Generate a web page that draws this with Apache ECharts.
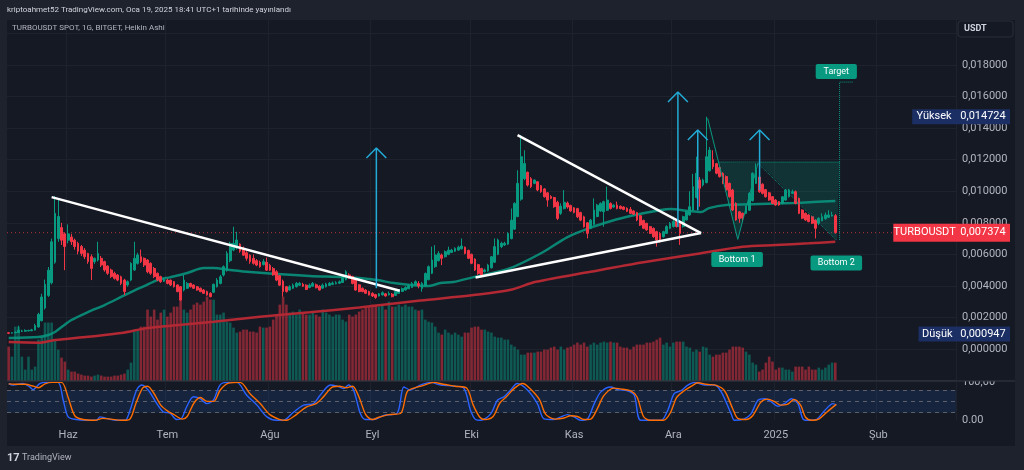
<!DOCTYPE html>
<html>
<head>
<meta charset="utf-8">
<title>TURBOUSDT</title>
<script src="https://cdn.jsdelivr.net/npm/echarts@6/dist/echarts.min.js"></script>
<style>
html,body{margin:0;padding:0;background:#151924;}
#chart{width:1024px;height:470px;}
</style>
</head>
<body>
<div id="chart"></div>
<script>
// daily Heikin Ashi candles, prices in 1e-4 USDT (10.3 -> 0.00103)
const startDay = Date.UTC(2024, 4, 14)
const totalDays = 287 // candles run to Jan 19, axis runs on to late Feb

const openP = [
10.3,10.1,10.2,10.4,11.2,11.3,11.5,11.6,12.0,14.0,
18.0,26.0,34.0,42.0,55.0,70.0,77.0,73.0,69.0,71.0,
69.0,67.0,65.0,62.7,60.6,58.5,55.4,56.4,57.5,55.4,
52.6,50.1,48.0,46.9,45.8,43.7,40.6,43.7,50.1,54.3,
58.5,57.5,56.4,54.3,51.1,48.0,45.9,43.0,43.7,43.7,
42.7,40.6,39.5,37.4,38.5,41.6,40.6,39.5,38.5,37.4,
36.4,35.3,36.0,39.5,41.6,46.9,50.0,56.0,62.7,64.0,
66.5,64.0,61.0,59.5,57.5,56.0,55.0,53.5,55.0,53.0,
51.0,49.0,46.5,43.0,39.5,37.4,38.5,39.5,40.5,41.0,
40.5,39.0,39.8,40.7,39.8,38.6,39.5,40.3,41.0,41.4,
41.7,42.2,44.0,47.0,46.0,44.0,40.7,38.5,37.4,36.4,
35.3,34.5,33.6,34.3,35.0,34.3,34.8,34.0,35.3,36.5,
37.4,38.2,39.0,40.3,41.5,38.4,40.0,44.0,48.0,52.2,
56.0,59.6,58.5,60.0,61.2,62.0,62.7,63.5,64.5,62.5,
60.0,57.0,53.5,51.0,49.0,49.5,51.5,55.0,60.0,64.9,
66.0,66.5,70.0,76.0,84.0,95.0,108.0,112.0,108.0,105.0,
106.0,103.5,101.5,99.0,96.7,96.0,93.0,86.0,89.0,92.5,
91.0,89.5,89.0,86.5,83.8,80.0,76.5,79.0,84.0,87.5,
87.0,88.0,92.3,90.0,91.2,90.5,90.0,89.2,88.5,87.5,
86.5,84.5,81.5,79.7,77.6,76.5,74.4,73.3,71.2,73.3,
76.5,77.6,80.8,79.7,77.6,81.8,85.0,88.0,96.0,107.1,
104.0,105.5,113.0,120.0,117.5,115.0,111.4,109.3,105.0,100.8,
92.3,87.0,86.0,86.0,88.0,94.0,105.0,109.0,104.5,101.0,
99.0,96.6,94.4,93.4,92.3,94.4,96.6,98.7,99.7,95.5,
88.1,86.0,85.0,83.9,81.8,79.7,81.3,82.5,83.5,84.3,
84.5]

const closeP = [
10.0,10.3,10.6,12.0,11.5,11.8,11.7,12.2,15.0,22.0,
33.0,41.0,50.0,68.0,86.0,84.0,69.0,65.0,73.0,68.0,
65.0,62.0,60.6,58.5,55.4,51.1,57.5,60.6,53.2,50.1,
48.0,45.9,44.8,43.7,41.6,36.4,42.7,54.3,57.5,59.6,
55.4,53.2,49.0,48.0,45.9,43.7,42.7,44.0,41.6,40.6,
39.5,36.4,31.1,43.7,41.6,39.5,38.5,37.4,36.4,35.3,
34.2,33.2,41.0,43.7,45.8,52.2,60.6,67.0,67.0,69.1,
62.0,59.5,57.5,55.4,54.3,53.2,52.2,55.4,50.0,50.0,
47.0,43.7,40.5,36.4,36.4,39.5,40.5,41.6,41.6,39.8,
37.8,40.5,41.6,38.8,37.4,40.5,41.2,41.6,41.8,42.0,
42.6,45.8,49.0,45.0,41.6,37.4,36.4,36.4,35.3,34.2,
33.6,32.7,35.0,35.7,33.6,35.2,33.2,36.5,37.6,38.3,
39.0,40.0,41.6,42.7,40.0,41.6,47.9,52.2,56.4,59.6,
60.6,57.5,61.7,62.7,62.7,63.8,64.5,65.3,60.6,57.5,
54.3,50.1,47.9,46.9,50.1,53.2,58.5,64.9,69.1,67.0,
67.0,73.3,81.7,92.3,105.0,121.9,117.6,103.9,102.9,107.1,
100.8,99.7,96.5,94.4,95.5,90.2,82.8,90.5,93.0,90.0,
87.5,86.5,83.8,81.7,77.5,73.3,81.7,88.1,91.2,92.3,
93.4,94.4,89.1,91.2,89.1,89.0,88.5,87.3,86.0,85.5,
81.8,78.6,76.5,75.5,73.3,71.2,69.1,68.0,74.4,77.6,
79.7,80.8,77.6,73.3,83.9,87.1,90.2,102.9,111.4,101.9,
107.1,121.9,126.1,115.6,111.4,109.3,105.0,100.8,96.6,88.1,
81.8,82.8,83.0,90.2,98.7,111.4,113.5,99.7,98.7,96.5,
94.4,92.3,91.3,91.3,96.5,100.8,100.8,99.7,92.3,86.0,
82.9,81.8,80.8,79.7,76.5,82.9,83.9,85.0,85.0,85.0,
73.74]

const highP = [
10.8,10.7,11.2,14.8,12.2,12.5,12.3,12.8,16.0,23.0,
35.0,44.0,52.0,70.0,97.0,95.0,80.0,74.0,79.0,73.0,
70.0,68.0,66.0,64.0,61.0,60.0,58.0,68.0,59.0,56.0,
53.0,51.0,49.0,47.5,46.5,44.5,43.5,55.0,68.0,61.0,
63.0,58.0,57.0,55.0,52.0,48.5,46.5,45.0,44.5,44.0,
43.0,41.0,40.0,46.9,42.5,42.0,41.0,40.0,39.0,38.0,
37.0,36.0,41.5,45.0,47.0,53.0,62.0,68.0,77.5,74.3,
67.0,65.0,62.0,60.0,60.0,57.0,56.0,57.0,58.0,54.0,
52.0,50.0,47.0,44.0,40.0,40.5,41.5,42.5,42.5,42.0,
41.0,41.5,42.5,41.5,40.5,41.5,42.0,42.5,42.8,43.0,
43.5,46.5,50.0,48.0,46.5,44.5,41.0,39.0,38.0,37.0,
36.0,35.0,35.5,36.5,35.5,36.5,35.5,37.0,38.0,39.0,
39.8,41.0,42.5,43.5,43.0,42.5,48.5,53.0,64.9,65.9,
62.0,60.5,62.5,64.9,63.5,64.5,65.5,70.1,65.0,63.0,
60.5,57.5,54.0,51.5,51.0,54.0,59.0,70.1,70.0,68.0,
68.0,74.0,89.1,93.0,113.3,135.6,126.0,112.5,109.0,107.5,
106.5,104.0,102.0,99.5,97.5,96.5,94.0,92.3,100.8,93.5,
91.5,90.0,89.5,87.0,84.5,80.5,82.5,95.5,92.0,93.0,
94.0,102.9,93.0,91.8,93.4,91.0,90.5,89.8,90.0,88.0,
87.0,85.0,82.0,80.0,78.0,77.0,75.0,74.0,75.0,78.5,
80.5,84.0,81.5,80.0,84.5,88.0,100.0,111.0,121.9,109.0,
108.0,147.2,128.0,126.0,118.0,115.5,112.0,110.0,105.5,101.5,
93.0,87.5,86.5,91.0,99.5,112.0,117.7,110.0,105.0,101.5,
99.5,97.0,95.0,93.8,97.0,101.5,101.5,101.0,100.5,96.0,
88.5,86.5,85.5,84.5,82.3,83.5,86.0,86.5,88.0,87.0,
85.5]

const lowP = [
9.47,9.8,10.0,10.2,10.8,11.0,11.2,11.3,11.8,13.5,
17.5,25.0,33.0,41.0,54.0,68.0,66.0,50.0,67.0,66.0,
63.0,60.0,59.0,57.0,54.0,43.7,54.0,55.5,52.0,49.0,
47.0,45.0,44.0,43.0,40.5,34.2,39.5,43.0,49.5,53.5,
54.5,52.0,48.0,47.0,45.0,43.0,42.0,42.5,41.0,40.0,
39.0,36.0,30.5,36.5,38.0,39.0,38.0,37.0,36.0,35.0,
33.8,32.8,35.5,39.0,41.0,46.0,49.0,55.0,62.0,63.0,
61.0,59.0,56.0,54.0,53.5,52.5,51.5,53.0,49.5,49.5,
46.5,43.0,40.0,33.2,35.8,37.0,38.0,39.0,40.0,39.3,
37.4,38.5,39.5,38.5,37.0,38.2,39.0,40.0,40.5,41.0,
41.2,42.0,43.5,44.5,41.0,37.0,36.0,36.0,35.0,34.0,
33.0,31.8,33.3,34.0,33.2,34.0,32.8,33.8,35.0,36.2,
37.0,38.0,38.8,40.0,38.5,36.3,39.5,43.5,47.5,51.5,
55.5,53.2,58.0,59.5,60.8,61.5,62.3,63.0,60.0,57.0,
53.8,49.5,47.0,45.8,48.5,49.0,51.0,54.5,59.5,64.0,
65.3,66.0,69.5,75.5,83.5,94.0,107.0,103.0,102.0,104.5,
100.0,99.0,96.0,90.2,95.0,89.5,81.7,85.0,88.5,89.0,
87.0,86.0,83.0,81.0,77.0,70.1,76.0,78.5,83.5,87.0,
77.5,87.5,88.5,89.5,88.5,88.5,88.0,86.8,85.5,85.0,
81.0,78.0,76.0,75.0,73.0,70.5,64.9,67.5,70.5,73.0,
76.0,77.0,77.0,66.0,77.0,81.5,84.5,87.5,95.5,90.2,
103.0,105.0,112.5,114.0,110.8,108.7,104.5,100.0,96.0,87.5,
81.3,80.0,80.5,85.5,87.5,93.5,104.5,99.0,98.0,96.0,
94.0,91.8,90.8,90.8,91.8,94.0,96.0,98.2,91.8,85.5,
82.3,81.3,80.3,79.2,70.1,78.5,81.0,82.0,83.0,84.0,
73.2]

// volume, relative units
const volume = [
34,24,54,54,24,11,24,11,14,41,
44,58,58,58,41,31,23,19,11,9,
9,7,6,5,5,4,5,6,5,4,
4,4,5,5,6,7,11,18,51,51,
54,54,71,64,71,61,68,71,64,68,
74,74,91,71,68,71,76,78,76,79,
84,81,81,66,66,68,59,58,53,48,
49,51,51,49,49,48,54,53,53,54,
61,66,76,84,76,68,69,66,71,68,
66,66,68,66,64,71,68,66,64,66,
66,61,59,66,64,66,69,71,73,74,
76,76,74,76,71,79,74,74,76,74,
76,74,74,71,70,71,61,59,58,54,
48,46,51,48,46,48,46,44,48,48,
53,54,54,51,51,49,48,44,43,43,
41,41,36,34,31,26,26,28,28,28,
29,29,31,31,33,34,31,34,31,33,
34,36,38,36,38,34,36,38,36,38,
39,38,39,38,38,34,33,33,31,34,
36,36,36,38,38,39,41,43,36,38,
34,38,39,39,39,34,33,29,31,29,
34,33,26,24,26,26,28,28,31,34,
34,34,33,29,26,18,16,9,11,18,
24,19,11,13,13,11,11,9,14,14,
14,11,14,11,11,13,11,13,16,18,
18]

// moving averages read at day offsets (1e-4 USDT)
const greenMaDays = [0,9,12,14,16,19,24,29,34,37,41,45,49,54,59,62,67,73,81,91,101,106,111.5,116.5,121.5,126.7,130.6,134.5,140.6,151,161,169,176,182,188,197.3,200.3,205.5,209.4,211.8,217,227,237.3,243.3,250]
const greenMaVals = [7.0,7.6,8.9,10.8,13.9,18.4,23.4,27.9,33.0,36.1,39.9,43.7,45.6,48.2,51.3,51.3,50.1,48.8,47.5,46.3,45.6,45.0,43.7,41.8,40.6,39.9,41.8,42.5,45.6,50.7,60.7,71.0,77.0,81.0,84.3,88.1,88.7,87.5,86.8,89.3,91.3,91.9,92.5,93.2,93.8]
const redMaDays = [0,9,14,24,34,42,49,62,76,91,106,124.5,140.6,151.5,159.5,176,192,209,222,232,242,250]
const redMaVals = [4.4,4.0,5.7,7.8,10.1,13.3,14.8,17.3,20.5,23.3,26.4,30.7,34.2,37.4,42.6,49.0,55.0,60.6,64.8,65.9,67.0,68.0]

// stochastic RSI (0-100)
const kDays = [0,1.3,4.3,6.4,7.4,9.4,11.4,14.9,16.5,18,20.5,23.5,26.6,27.6,29.6,32.6,35.2,36.7,38.7,40.2,42.2,44.8,46.8,48.8,50.8,52.3,53.8,55.9,57.9,59.9,61.9,63.9,66,69,72,75.1,78.1,81.1,83.1,86.2,89.2,92.2,94.2,97.3,99.3,101.3,102.8,104.3,106.4,107.9,110.4,113.4,117.5,119.5,121.5,124.5,127.6,130.6,134.6,137.7,139.7,141.2,142.7,145.8,147.8,149.8,151.8,153.8,156.9,159.9,161.9,164.9,167,169,171,173,175.1,177.1,179.1,182.1,184.2,187.2,189.2,191.2,197.3,199.3,201.3,203.3,205.4,207.4,210.4,213.4,215.5,218.5,219.5,222.5,224.5,226.6,228.6,230.6,232.6,234.6,236.7,238.7,240.2,241.7,244.2,246.8,249.3,250.3]
const kVals = [97,93,97,88,81,97,100,100,53,9,2,0,0,9,5,0,0,26,80,93,80,44,22,19,2,5,35,62,57,44,53,93,100,100,66,40,9,0,0,22,40,44,66,93,90,84,93,80,17,2,2,13,19,88,80,93,100,93,90,84,26,2,0,17,53,62,80,97,80,44,4,2,9,15,9,0,4,44,75,88,81,78,66,0,0,26,71,78,93,100,93,93,75,17,0,4,17,53,57,49,37,44,57,44,4,0,2,26,44,40]
const dDays = [0,2,5,7.5,9,11,13,16,18,20,22.5,26,28.5,31,34,36.5,38.5,40.5,42,44,46,48,50,52.5,54,56,58,60,62,64,66.5,70,73,76,79,82,84,87,90,93,95,98,100,102,104,106,108,110,112,115,118.5,120.5,122.5,125.5,128.5,131.5,135,138.5,140.5,142.5,144,146.5,148.5,150.5,153,155.5,157.5,160.5,162.5,165.5,168,170,172,174,176,178,180,183,185,188,190,192,194,198,200,202,204,206.5,208.5,211,214,216.5,219,220.5,223,225,227.5,229.5,231.5,233.5,235.5,237.5,239.5,241,243,245,247.5,250.3]
const dVals = [96,95,95,90,86,96,100,100,60,12,2,0,5,3,0,2,45,85,90,70,40,25,15,3,10,45,60,50,50,80,98,100,70,45,15,2,0,15,35,44,60,88,90,86,90,60,15,2,8,15,18,75,85,92,100,95,90,85,40,8,2,10,45,62,85,97,85,55,15,3,6,12,10,2,3,30,65,85,83,78,62,10,0,0,18,60,76,90,99,95,92,78,30,5,2,12,48,56,50,40,42,55,40,8,0,3,22,42]

// drawings: [dayOffset, price 1e-4]
const trendLines = [
  [[13, 96.3], [118.3, 36.9]],
  [[153.9, 135.6], [209.4, 73.5]],
  [[141.2, 45.4], [209.4, 73.5]]
]
const arrowDays = [111.2, 202.4, 208.4, 227.1]
const arrowFrom = [38.5, 77.3, 88.0, 100.8]
const arrowTo = [127.4, 162.9, 138.8, 138.8]
const wPattern = [[211.4, 146.2], [220.5, 69.5], [226.6, 117.7]]
const neckLine = [[214.7, 118.5], [251.3, 118.5]]
const diagLine = [[226.6, 117.7], [250.3, 69.1]]
const targetLine = [[251.3, 69.1], [251.3, 169.2], [255.3, 169.2]]
const fillShapes = [
  [[214.7, 118.5], [220.5, 69.5], [226.6, 117.7]],
  [[226.6, 118.5], [251.3, 118.5], [250.5, 69.1]]
]
const noteText = ['Bottom 1', 'Bottom 2', 'Target']
const notePos = [[220.3, 56.7], [250.3, 54.5], [250.3, 175.9]]

const highPrice = 0.014724
const lastPrice = 0.007374
const lowPrice = 0.000947

const monthNames = ['Oca','Şub','Mar','Nis','May','Haz','Tem','Ağu','Eyl','Eki','Kas','Ara']

let dates = []
for (let k = 0; k < totalDays; k++) {
  dates.push(new Date(startDay + k * 86400000).toISOString().slice(0, 10))
}

const isMonthStart = (idx, val) => val.slice(8) === '01'
const monthLabel = function(val) {
  let m = parseInt(val.slice(5, 7), 10)
  if (m === 1) return val.slice(0, 4)
  return monthNames[m - 1]
}

const UP = '#089981'
const DOWN = '#f23645'
const GRIDLINE = '#1e222d'
const FONT = 'Roboto, "Noto Sans", sans-serif'

let candles = openP.map((o, k) => [o / 1e4, closeP[k] / 1e4, lowP[k] / 1e4, highP[k] / 1e4])
let volBars = volume.map((v, k) => ({
  value: v,
  itemStyle: { color: closeP[k] >= openP[k] ? 'rgba(8,153,129,0.5)' : 'rgba(242,54,69,0.5)' }
}))
let toXY = pts => pts.map(p => [p[0], p[1] / 1e4])
let pairs = (days, vals, scale) => days.map((d, k) => [d, vals[k] / scale])

let plotRight = 68
let mainTop = 17.7, mainHeight = 362.9
let stochTop = 382.4, stochHeight = 37.9

let series = []

series.push({
  type: 'bar', name: 'volume', xAxisIndex: 0, yAxisIndex: 1,
  data: volBars, barWidth: '78%', z: 1, silent: true
})
// last price guide across the pane
series.push({
  type: 'line', xAxisIndex: 1, yAxisIndex: 0, symbol: 'none', z: 2, silent: true,
  data: [[-0.5, lastPrice], [totalDays - 0.5, lastPrice]],
  lineStyle: { color: DOWN, type: [1, 3], width: 1, opacity: 0.75 }
})
series.push({
  type: 'candlestick', xAxisIndex: 0, yAxisIndex: 0, data: candles,
  barWidth: '68%', z: 5,
  itemStyle: { color: UP, color0: DOWN, borderColor: UP, borderColor0: DOWN, borderWidth: 1 }
})
series.push({
  type: 'line', xAxisIndex: 1, yAxisIndex: 0, data: pairs(greenMaDays, greenMaVals, 1e4),
  smooth: 0.3, symbol: 'none', z: 4, lineStyle: { color: 'rgba(8,153,129,0.85)', width: 2.5 }
})
series.push({
  type: 'line', xAxisIndex: 1, yAxisIndex: 0, data: pairs(redMaDays, redMaVals, 1e4),
  smooth: 0.3, symbol: 'none', z: 4, lineStyle: { color: '#b22833', width: 2.5 }
})
trendLines.forEach(function(t) {
  series.push({
    type: 'line', xAxisIndex: 1, yAxisIndex: 0, data: toXY(t), symbol: 'none', z: 8,
    lineStyle: { color: '#ffffff', width: 2.5 }
  })
})
arrowDays.forEach(function(d, k) {
  series.push({
    type: 'line', xAxisIndex: 1, yAxisIndex: 0, symbol: 'none', z: 9,
    data: toXY([[d, arrowFrom[k]], [d, arrowTo[k]]]),
    lineStyle: { color: '#22abd6', width: 1.5 }
  })
  series.push({
    type: 'line', xAxisIndex: 1, yAxisIndex: 0, symbol: 'none', z: 9,
    data: toXY([[d - 3, arrowTo[k] - 6.3], [d, arrowTo[k]], [d + 3, arrowTo[k] - 6.3]]),
    lineStyle: { color: '#22abd6', width: 1.5 }
  })
})
series.push({
  type: 'custom', xAxisIndex: 1, yAxisIndex: 0, z: 3, silent: true,
  data: fillShapes.map(s => [s[0][0], s[0][1] / 1e4]),
  renderItem: function(params, api) {
    let pts = fillShapes[params.dataIndex].map(p => api.coord([p[0], p[1] / 1e4]))
    return { type: 'polygon', shape: { points: pts }, style: { fill: 'rgba(8,153,129,0.2)' } }
  }
})
series.push({
  type: 'line', xAxisIndex: 1, yAxisIndex: 0, data: toXY(wPattern), symbol: 'none', z: 7,
  lineStyle: { color: '#089981', width: 1 }
})
;[neckLine, diagLine, targetLine].forEach(function(l) {
  series.push({
    type: 'line', xAxisIndex: 1, yAxisIndex: 0, data: toXY(l), symbol: 'none', z: 7,
    lineStyle: { color: '#089981', width: 1, type: 'dotted' }
  })
})
series.push({
  type: 'line', xAxisIndex: 3, yAxisIndex: 2, data: pairs(kDays, kVals, 1),
  smooth: 0.3, symbol: 'none', z: 5, lineStyle: { color: '#2962ff', width: 1.4 },
  markArea: {
    silent: true, itemStyle: { color: 'rgba(33,120,243,0.12)' },
    data: [[{ yAxis: 20 }, { yAxis: 80 }]]
  },
  markLine: {
    silent: true, symbol: 'none', label: { show: false },
    lineStyle: { color: '#5d606b', type: [4, 4], width: 1 },
    data: [{ yAxis: 80 }, { yAxis: 50 }, { yAxis: 20 }]
  }
})
series.push({
  type: 'line', xAxisIndex: 3, yAxisIndex: 2, data: pairs(dDays, dVals, 1),
  smooth: 0.3, symbol: 'none', z: 6, lineStyle: { color: '#ff6d00', width: 1.4 }
})

let option = {
  animation: false,
  backgroundColor: '#151924',
  textStyle: { fontFamily: FONT },
  grid: [
    { left: 7, right: plotRight, top: mainTop, height: mainHeight },
    { left: 7, right: plotRight, top: stochTop, height: stochHeight }
  ],
  xAxis: [
    { type: 'category', gridIndex: 0, data: dates, boundaryGap: true,
      axisLine: { show: false }, axisTick: { show: false }, axisLabel: { show: false },
      splitLine: { show: true, interval: isMonthStart, lineStyle: { color: GRIDLINE } } },
    { type: 'value', gridIndex: 0, min: -0.5, max: totalDays - 0.5, show: false },
    { type: 'category', gridIndex: 1, data: dates, boundaryGap: true,
      axisLine: { show: false }, axisTick: { show: false },
      axisLabel: { interval: isMonthStart, formatter: monthLabel, color: '#b2b5be', fontSize: 11, margin: 9 },
      splitLine: { show: true, interval: isMonthStart, lineStyle: { color: GRIDLINE } } },
    { type: 'value', gridIndex: 1, min: -0.5, max: totalDays - 0.5, show: false }
  ],
  yAxis: [
    { type: 'value', gridIndex: 0, position: 'right', min: -0.002, max: 0.021, interval: 0.002,
      axisLine: { show: false }, axisTick: { show: false },
      splitLine: { lineStyle: { color: GRIDLINE } },
      axisLabel: { color: '#b2b5be', fontSize: 11, margin: 6,
        formatter: v => (v > -1e-9 && v < 0.0185) ? v.toFixed(6).replace('.', ',') : '' } },
    { type: 'value', gridIndex: 0, min: 0, max: mainHeight, show: false },
    { type: 'value', gridIndex: 1, position: 'right', min: 0, max: 100, interval: 50,
      axisLine: { show: false }, axisTick: { show: false }, splitLine: { show: false },
      axisLabel: { color: '#b2b5be', fontSize: 11, margin: 6,
        formatter: v => v === 0 ? '0.00' : (v === 100 ? '100,00' : '') } }
  ],
  series: series
}

let chart = echarts.init(document.getElementById('chart'))
chart.setOption(option)

// overlays: frame, header, price tags, pattern notes
let W = 1024, H = 470, axisX = W - plotRight
let yOf = p => chart.convertToPixel({ yAxisIndex: 0 }, p)
let ptOf = p => chart.convertToPixel({ xAxisIndex: 1, yAxisIndex: 0 }, [p[0], p[1] / 1e4])

function priceTag(price, label, bg, h) {
  let y = yOf(price)
  let txt = price.toFixed(6).replace('.', ',')
  let labelW = label.length * 6.3 + 6
  return [
    { type: 'rect', z: 50, shape: { x: axisX - labelW, y: y - h / 2, width: labelW, height: h }, style: { fill: bg } },
    { type: 'text', z: 51, x: axisX - labelW / 2, y: y, style: { text: label, fill: '#ffffff', font: '11px ' + FONT, align: 'center', verticalAlign: 'middle' } },
    { type: 'rect', z: 50, shape: { x: axisX, y: y - h / 2, width: 54, height: h }, style: { fill: bg } },
    { type: 'text', z: 51, x: axisX + 27, y: y, style: { text: txt, fill: '#ffffff', font: '11px ' + FONT, align: 'center', verticalAlign: 'middle' } }
  ]
}

let els = []
// outer frame around the chart panel
els.push({ type: 'rect', z: 40, shape: { x: 0, y: 0, width: W, height: 20 }, style: { fill: '#1e222d' } })
els.push({ type: 'rect', z: 40, shape: { x: 0, y: 0, width: 7, height: H }, style: { fill: '#1e222d' } })
els.push({ type: 'rect', z: 40, shape: { x: 1015, y: 0, width: 9, height: H }, style: { fill: '#1e222d' } })
els.push({ type: 'rect', z: 40, shape: { x: 0, y: 446, width: W, height: 24 }, style: { fill: '#1e222d' } })
els.push({ type: 'rect', z: 41, shape: { x: axisX + 1, y: 366, width: 1015 - axisX - 2, height: 15 }, style: { fill: '#151924' } })
els.push({ type: 'line', z: 42, shape: { x1: 7, y1: 381, x2: 1015, y2: 381 }, style: { stroke: '#363a45', lineWidth: 1 } })
els.push({ type: 'text', z: 45, x: 7, y: 10, style: { text: 'kriptoahmet52 TradingView.com, Oca 19, 2025 18:41 UTC+1 tarihinde yayınlandı', fill: '#d1d4dc', font: '8px ' + FONT, verticalAlign: 'middle' } })
els.push({ type: 'text', z: 45, x: 12, y: 28, style: { text: 'TURBOUSDT SPOT, 1G, BITGET, Heikin Ashi', fill: '#b2b5be', font: '8px ' + FONT, verticalAlign: 'middle' } })
els.push({ type: 'rect', z: 45, shape: { x: 958, y: 21, width: 55, height: 16, r: 3 }, style: { fill: '#151924', stroke: '#2a2e39', lineWidth: 1 } })
els.push({ type: 'text', z: 46, x: 964, y: 29, style: { text: 'USDT', fill: '#d1d4dc', font: 'bold 9px ' + FONT, verticalAlign: 'middle' } })
els.push({ type: 'text', z: 45, x: 7, y: 458, style: { text: '17', fill: '#d1d4dc', font: 'bold 11px ' + FONT, verticalAlign: 'middle' } })
els.push({ type: 'text', z: 45, x: 22, y: 458, style: { text: 'TradingView', fill: '#b2b5be', font: '9px ' + FONT, verticalAlign: 'middle' } })

els = els.concat(priceTag(highPrice, 'Yüksek', '#1c2f65', 15))
els = els.concat(priceTag(lastPrice, 'TURBOUSDT', DOWN, 18))
els = els.concat(priceTag(lowPrice, 'Düşük', '#1c2f65', 15))

noteText.forEach(function(t, k) {
  let p = ptOf(notePos[k])
  let w = t.length * 5.2 + 10
  els.push({ type: 'rect', z: 30, shape: { x: p[0] - w / 2, y: p[1] - 7.5, width: w, height: 15, r: 2 }, style: { fill: '#089981' } })
  els.push({ type: 'text', z: 31, x: p[0], y: p[1], style: { text: t, fill: '#ffffff', font: '9px ' + FONT, align: 'center', verticalAlign: 'middle' } })
})

chart.setOption({ graphic: { elements: els } })
</script>
</body>
</html>
